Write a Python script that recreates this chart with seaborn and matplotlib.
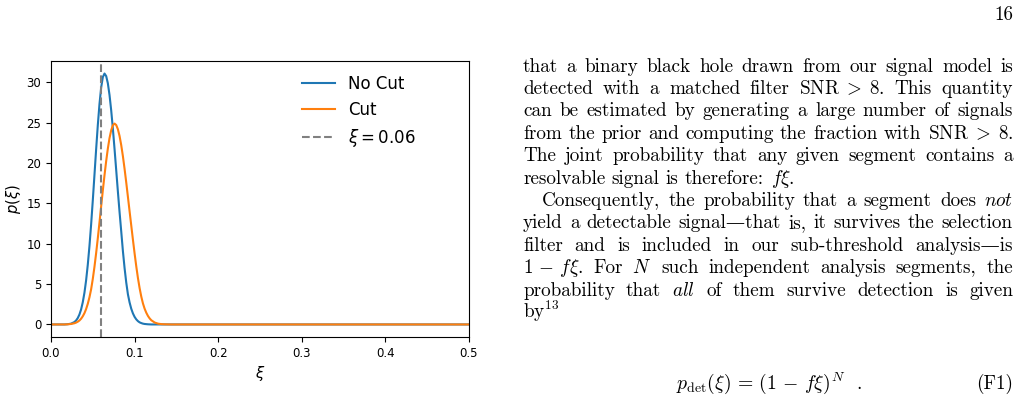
import matplotlib
matplotlib.use("Agg")
import matplotlib.pyplot as plt
import seaborn as sns
from matplotlib.transforms import IdentityTransform

# ---------------- data ----------------
xi = [0.000, 0.016, 0.020, 0.024, 0.028,
      0.030, 0.032, 0.034, 0.036, 0.038, 0.040, 0.042, 0.044, 0.046, 0.048,
      0.050, 0.052, 0.054, 0.056, 0.058, 0.060, 0.062, 0.064, 0.066, 0.068,
      0.070, 0.072, 0.074, 0.076, 0.078, 0.080, 0.082, 0.084, 0.086, 0.088,
      0.090, 0.092, 0.094, 0.096, 0.098, 0.100, 0.102, 0.104, 0.106, 0.108,
      0.110, 0.112, 0.114, 0.116, 0.118, 0.120,
      0.124, 0.128, 0.132, 0.136, 0.140, 0.144, 0.148, 0.500]
p_no_cut = [0.00, 0.00, 0.03, 0.10, 0.30,
            0.49, 0.79, 1.23, 1.86, 2.75, 3.93, 5.47, 7.40, 9.72, 12.40,
            15.39, 18.55, 21.72, 24.72, 27.33, 29.36, 30.66, 31.10, 30.79, 29.89,
            28.44, 26.54, 24.27, 21.76, 19.13, 16.48, 13.93, 11.54, 9.10, 7.00,
            5.20, 3.74, 2.73, 1.95, 1.37, 0.94, 0.63, 0.41, 0.26, 0.17,
            0.10, 0.06, 0.04, 0.02, 0.01, 0.00,
            0.00, 0.00, 0.00, 0.00, 0.00, 0.00, 0.00, 0.00]
p_cut = [0.00, 0.00, 0.02, 0.06, 0.15,
         0.23, 0.34, 0.49, 0.71, 1.01, 1.40, 1.91, 2.56, 3.37, 4.36,
         5.65, 7.15, 8.85, 10.70, 12.65, 14.65, 16.62, 18.50, 20.25, 21.80,
         23.10, 24.07, 24.68, 24.90, 24.72, 24.20, 23.36, 22.23, 20.86, 19.29,
         17.60, 15.82, 14.03, 12.26, 10.50, 8.80, 7.20, 5.75, 4.50, 3.45,
         2.60, 1.95, 1.45, 1.05, 0.75, 0.52,
         0.24, 0.10, 0.04, 0.02, 0.01, 0.00, 0.00, 0.00]
xi_line = 0.06
series_labels = ["No Cut", "Cut"]
line_label = r"$\xi = 0.06$"
x_ticks = [0.0, 0.1, 0.2, 0.3, 0.4, 0.5]
y_ticks = [0, 5, 10, 15, 20, 25, 30]

W, H = 1020, 401
fig = plt.figure(figsize=(W / 100, H / 100), dpi=100)
fig.patch.set_facecolor("white")

ax = fig.add_axes([51 / W, 1 - 337 / H, (469 - 51) / W, (337 - 61) / H])
sns.lineplot(x=xi, y=p_no_cut, ax=ax, color="#1f77b4", lw=1.5,
             label=series_labels[0], estimator=None)
sns.lineplot(x=xi, y=p_cut, ax=ax, color="#ff7f0e", lw=1.5,
             label=series_labels[1], estimator=None)
ax.axvline(xi_line, color="gray", ls="--", lw=1.5, label=line_label)

ax.set_xlim(0, 0.5)
ax.set_xticks(x_ticks)
ax.set_yticks(y_ticks)
ax.set_xticklabels([f"{t:.1f}" for t in x_ticks])
ax.tick_params(labelsize=8.5)
ax.set_xlabel(r"$\xi$", fontsize=10.6, labelpad=3)
ax.set_ylabel(r"$p(\xi)$", fontsize=10.6, labelpad=2.5)
ax.legend(loc="upper left", bbox_to_anchor=(0.564, 1.005), frameon=False,
          fontsize=12)

# ---------------- page text on the right ----------------
SERIF = ["cmr10", "DejaVu Serif"]
FS = 13.8
ident = IdentityTransform()
renderer = fig.canvas.get_renderer()
space = FS * 100 / 72 * 0.333


def put(s, x, y, ha="left", size=FS):
    return fig.text(x, H - y, s, transform=ident, fontsize=size, family=SERIF,
                    math_fontfamily="cm", ha=ha, va="baseline")


def text_line(tokens, y, x0, x1, justify):
    ts = [put(tok, 0, y) for tok in tokens]
    ws = [t.get_window_extent(renderer).width for t in ts]
    if justify and len(ts) > 1:
        gap = (x1 - x0 - sum(ws)) / (len(ts) - 1)
    else:
        gap = space
    x = x0
    for t, w in zip(ts, ws):
        t.set_x(x)
        x += w + gap


X0, X1 = 523, 1013
lines = [
    ("that a binary black hole drawn from our signal model is", 0, True),
    (r"detected with a matched filter SNR$\;>\;$8. This quantity", 0, True),
    ("can be estimated by generating a large number of signals", 0, True),
    (r"from the prior and computing the fraction with SNR$\;>\;$8.", 0, True),
    ("The joint probability that any given segment contains a", 0, True),
    (r"resolvable signal is therefore: $f\xi$.", 0, False),
    (r"Consequently, the probability that a segment does $\mathit{not}$", 19, True),
    ("yield a detectable signal\u2014that is, it survives the selection", 0, True),
    ("filter and is included in our sub-threshold analysis\u2014is", 0, True),
    (r"$1\,-\,f\xi$. For $N$ such independent analysis segments, the", 0, True),
    (r"probability that $\mathit{all}$ of them survive detection is given", 0, True),
    (r"by$^{13}$", 0, False),
]
for i, (s, indent, just) in enumerate(lines):
    text_line(s.split(" "), 71.7 + 22.4 * i, X0 + indent, X1, just)

put("16", X1, 20, ha="right")
put(r"$p_{\mathrm{det}}(\xi)\,=\,(1\,-\,f\xi)^{N}$  .", 676, 389, size=14.2)
put("(F1)", X1, 389, ha="right")

fig.savefig("out.png", dpi=100, facecolor="white")
